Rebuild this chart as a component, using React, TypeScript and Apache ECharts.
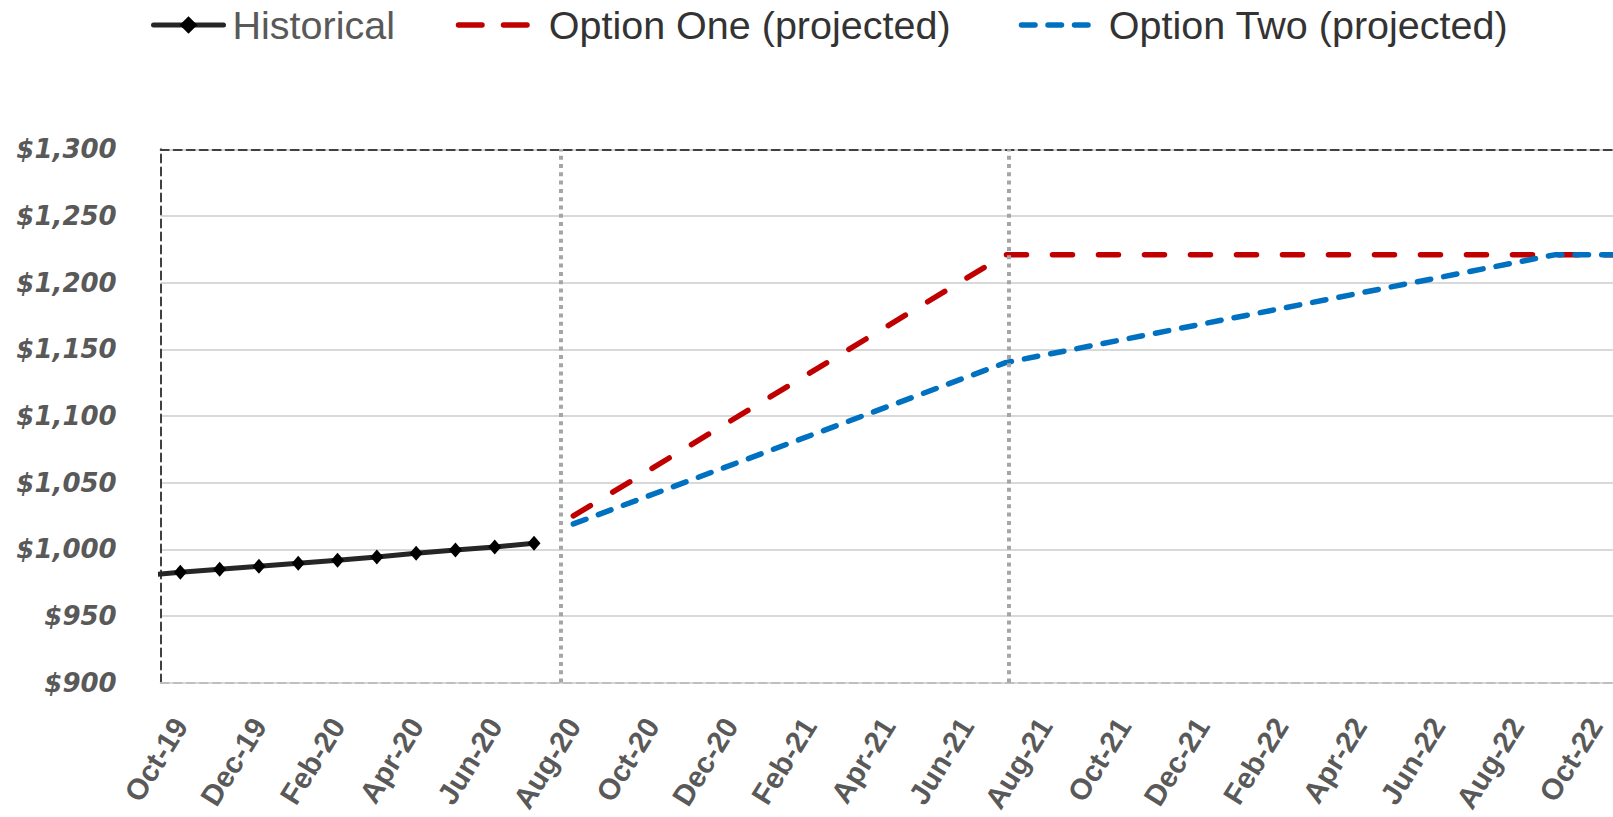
import React, { useEffect, useRef } from "react";
import * as echarts from "echarts";

// Tick labels (monthly categories, Oct-19 .. Oct-22)
const months = [
  "Oct-19", "Nov-19", "Dec-19", "Jan-20", "Feb-20", "Mar-20", "Apr-20", "May-20", "Jun-20", "Jul-20",
  "Aug-20", "Sep-20", "Oct-20", "Nov-20", "Dec-20", "Jan-21", "Feb-21", "Mar-21", "Apr-21", "May-21",
  "Jun-21", "Jul-21", "Aug-21", "Sep-21", "Oct-21", "Nov-21", "Dec-21", "Jan-22", "Feb-22", "Mar-22",
  "Apr-22", "May-22", "Jun-22", "Jul-22", "Aug-22", "Sep-22", "Oct-22",
];

const historicalMonths = ["Sep-19", "Oct-19", "Nov-19", "Dec-19", "Jan-20", "Feb-20", "Mar-20", "Apr-20", "May-20", "Jun-20", "Jul-20"];
const historicalValues = [980.3, 982.7, 985.0, 987.2, 989.5, 991.7, 994.2, 997.0, 999.5, 1001.7, 1004.5];

const optionOneMonths = ["Aug-20", "Jul-21", "Oct-22", "Nov-22"];
const optionOneValues = [1025, 1221, 1221, 1221];

const optionTwoMonths = ["Aug-20", "Jul-21", "Sep-22", "Oct-22", "Nov-22"];
const optionTwoValues = [1019, 1140, 1221, 1221, 1221];

// Dotted dividers, in months from Oct-19
const dividerPositions = [9.69, 21.09];

const yTicks = { min: 900, max: 1300, step: 50 };

const MONTH_NAMES = ["Jan", "Feb", "Mar", "Apr", "May", "Jun", "Jul", "Aug", "Sep", "Oct", "Nov", "Dec"];
function monthIndex(label: string): number {
  const [m, y] = label.split("-");
  const year = 2000 + parseInt(y, 10);
  return (year - 2019) * 12 + MONTH_NAMES.indexOf(m) - 9;
}

const LABEL_FONT = "'Liberation Sans', Arial, sans-serif";

export default function App() {
  const ref = useRef<HTMLDivElement>(null);

  useEffect(() => {
    if (!ref.current) return;
    const chart = echarts.init(ref.current, undefined, { renderer: "svg" });

    const gridLeft = 160.7;
    const gridTop = 149.3;
    const gridW = 1454;
    const gridH = 533.3;

    const histData = historicalMonths.map((m, i) => {
      const item: any = { value: [monthIndex(m), historicalValues[i]] };
      if (monthIndex(m) < 0) item.symbol = "none";
      return item;
    });
    const oneData = optionOneMonths.map((m, i) => [monthIndex(m), optionOneValues[i]]);
    const twoData = optionTwoMonths.map((m, i) => [monthIndex(m), optionTwoValues[i]]);

    const legendText = { fontSize: 39.5, fontFamily: LABEL_FONT };
    const legendTop = 5;

    chart.setOption({
      animation: false,
      backgroundColor: "#ffffff",
      legend: [
        {
          top: legendTop,
          left: 151,
          padding: 0,
          itemWidth: 70,
          itemHeight: 22,
          selectedMode: false,
          data: [{ name: "Historical" }],
          lineStyle: { width: 5, color: "#262626", type: "solid", cap: "round" },
          itemStyle: { color: "#000000" },
          textStyle: { ...legendText, color: "#595959", padding: [0, 0, 0, 4] },
        },
        {
          top: legendTop,
          left: 455.75,
          padding: 0,
          itemWidth: 68.5,
          itemHeight: 22,
          selectedMode: false,
          data: [{ name: "Option One (projected)" }],
          lineStyle: { width: 5.5, color: "#c00000", type: [23.5, 21.5], cap: "round" },
          itemStyle: { opacity: 0 },
          textStyle: { ...legendText, color: "#333333", padding: [0, 0, 0, 16.75] },
        },
        {
          top: legendTop,
          left: 1018.75,
          padding: 0,
          itemWidth: 66.5,
          itemHeight: 22,
          selectedMode: false,
          data: [{ name: "Option Two (projected)" }],
          lineStyle: { width: 5.5, color: "#0070c0", type: [13.5, 13], cap: "round" },
          itemStyle: { opacity: 0 },
          textStyle: { ...legendText, color: "#333333", padding: [0, 0, 0, 15.75] },
        },
      ],
      grid: {
        left: gridLeft,
        top: gridTop,
        width: gridW,
        height: gridH,
        containLabel: false,
        outerBoundsMode: "none",
      },
      xAxis: [
        {
          type: "category",
          data: months,
          boundaryGap: true,
          axisLine: { show: true, onZero: false, lineStyle: { color: "#bfbfbf", width: 2, type: [8, 5] } },
          axisTick: { show: false },
          splitLine: { show: false },
          axisLabel: {
            interval: 1,
            rotate: 58,
            margin: 38,
            color: "#595959",
            fontWeight: "bold",
            fontSize: 29.5,
            fontFamily: LABEL_FONT,
          },
        },
        {
          type: "value",
          min: -0.5,
          max: 36.5,
          position: "top",
          axisLine: { show: true, onZero: false, lineStyle: { color: "#404040", width: 2, type: [8, 5] } },
          axisTick: { show: false },
          axisLabel: { show: false },
          splitLine: { show: false },
        },
      ],
      yAxis: {
        type: "value",
        min: yTicks.min,
        max: yTicks.max,
        interval: yTicks.step,
        axisLine: { show: true, onZero: false, lineStyle: { color: "#404040", width: 2, type: [8, 5] } },
        axisTick: { show: false },
        splitLine: { show: true, lineStyle: { color: "#d9d9d9", width: 2 } },
        axisLabel: {
          margin: 44,
          color: "#595959",
          fontWeight: "bold",
          fontStyle: "italic",
          fontSize: 26,
          fontFamily: "'DejaVu Sans', sans-serif",
          formatter: (v: number) => "$" + v.toLocaleString("en-US"),
        },
      },
      series: [
        {
          name: "Historical",
          type: "line",
          xAxisIndex: 1,
          data: histData,
          symbol: "diamond",
          symbolSize: [13, 15],
          itemStyle: { color: "#000000" },
          lineStyle: { color: "#262626", width: 5 },
          clip: true,
          z: 3,
          markLine: {
            silent: true,
            symbol: "none",
            label: { show: false },
            lineStyle: { color: "#a6a6a6", width: 4, type: [4, 4.3] },
            data: dividerPositions.map((p) => ({ xAxis: p })),
          },
        },
        {
          name: "Option One (projected)",
          type: "line",
          xAxisIndex: 1,
          data: oneData,
          symbol: "none",
          itemStyle: { color: "#c00000" },
          lineStyle: { color: "#c00000", width: 5.5, type: [20, 26], cap: "round" },
          clip: true,
          z: 3,
        },
        {
          name: "Option Two (projected)",
          type: "line",
          xAxisIndex: 1,
          data: twoData,
          symbol: "none",
          itemStyle: { color: "#0070c0" },
          lineStyle: { color: "#0070c0", width: 5.5, type: [13.5, 13.2], cap: "round" },
          clip: true,
          z: 4,
        },
      ],
    });

    return () => chart.dispose();
  }, []);

  return (
    <div
      ref={ref}
      style={{ position: "fixed", left: 0, top: 0, width: 1613, height: 817, background: "#fff" }}
    />
  );
}
